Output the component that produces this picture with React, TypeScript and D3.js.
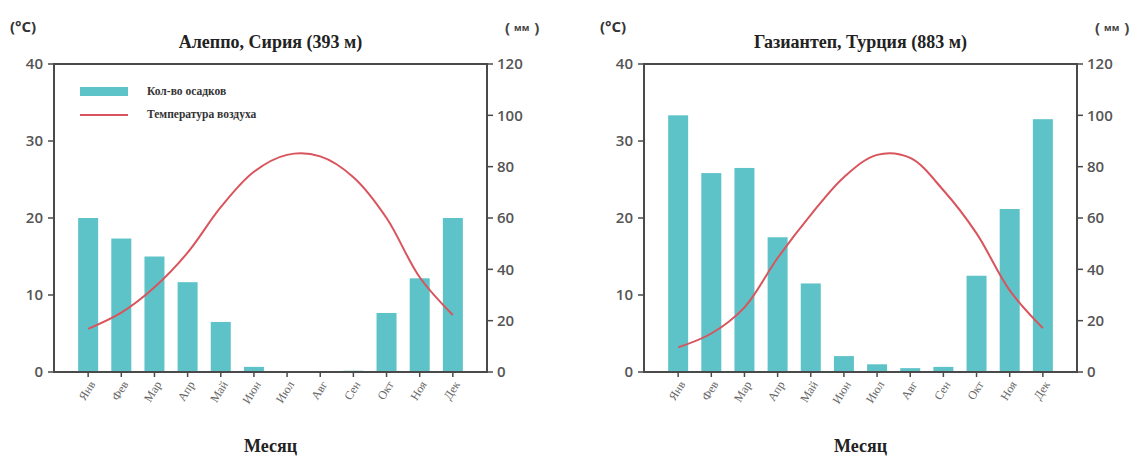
import React from "react";
import * as d3 from "d3";

const months = ["Янв", "Фев", "Мар", "Апр", "Май", "Июн", "Июл", "Авг", "Сен", "Окт", "Ноя", "Дек"];

// Алеппо
const aleppoRain = [60, 52, 45, 35, 19.5, 2, 0, 0, 0.5, 23, 36.5, 60];
const aleppoTemp = [5.6, 7.7, 11.0, 15.5, 21.4, 26.0, 28.2, 28.0, 25.3, 20.0, 12.3, 7.4];

// Газиантеп
const gaziRain = [100, 77.5, 79.5, 52.5, 34.5, 6.2, 3, 1.5, 2, 37.5, 63.5, 98.5];
const gaziTemp = [3.2, 5.0, 8.4, 14.8, 20.4, 25.3, 28.2, 27.8, 23.6, 18.0, 10.6, 5.7];

const tempTicks = [0, 10, 20, 30, 40];
const rainTicks = [0, 20, 40, 60, 80, 100, 120];

const BAR = "#5ec3c8";
const LINE = "#d9545c";
const AXIS = "#4a4a4a";

const top = 64;
const bottom = 372;

type ChartProps = {
  x0: number;
  title: string;
  rain: number[];
  temp: number[];
  legend?: boolean;
};

const Chart = ({ x0, title, rain, temp, legend }: ChartProps) => {
  const x1 = x0 + 433;
  const x = d3.scaleLinear().domain([-1.03, 12.03]).range([x0, x1]);
  const yT = d3.scaleLinear().domain([0, 40]).range([bottom, top]);
  const yR = d3.scaleLinear().domain([0, 120]).range([bottom, top]);
  const bw = 20;

  const line = d3
    .line<number>()
    .x((d, i) => x(i))
    .y((d) => yT(d))
    .curve(d3.curveCatmullRom.alpha(0.5));

  const cx = (x0 + x1) / 2;
  const tickFont = "'Open Sans', 'Liberation Sans', sans-serif";
  const serif = "'Liberation Serif', 'DejaVu Serif', serif";

  return (
    <g>
      <text x={x0 - 44} y={32} fontFamily={tickFont} fontWeight={700} fontSize={15} fill="#333">
        (°C)
      </text>
      <text x={x1 + 18} y={33} fontFamily={tickFont} fontWeight={700} fontSize={15} fill="#444">
        (
        <tspan fontSize={9} dx={4} dy={-2}>мм</tspan>
        <tspan dx={5} dy={2}>)</tspan>
      </text>
      <text x={cx} y={48} textAnchor="middle" fontFamily={serif} fontWeight={700} fontSize={18} fill="#222">
        {title}
      </text>

      {rain.map((d, i) => (
        <rect key={i} x={x(i) - bw / 2} y={yR(d)} width={bw} height={bottom - yR(d)} fill={BAR} />
      ))}
      <path d={line(temp) || ""} fill="none" stroke={LINE} strokeWidth={2} />

      {/* spines */}
      <rect x={x0} y={top} width={x1 - x0} height={bottom - top} fill="none" stroke={AXIS} strokeWidth={2} />

      {tempTicks.map((t) => (
        <g key={t}>
          <line x1={x0 - 6} x2={x0} y1={yT(t)} y2={yT(t)} stroke={AXIS} strokeWidth={1.5} />
          <text
            x={x0 - 11}
            y={yT(t)}
            dy="0.35em"
            textAnchor="end"
            fontFamily={tickFont}
            fontWeight={600}
            fontSize={15}
            fill="#555"
          >
            {t}
          </text>
        </g>
      ))}
      {rainTicks.map((t) => (
        <g key={t}>
          <line x1={x1} x2={x1 + 6} y1={yR(t)} y2={yR(t)} stroke={AXIS} strokeWidth={1.5} />
          <text
            x={x1 + 10}
            y={yR(t)}
            dy="0.35em"
            fontFamily={tickFont}
            fontWeight={600}
            fontSize={15}
            fill="#555"
          >
            {t}
          </text>
        </g>
      ))}
      {months.map((m, i) => (
        <g key={m}>
          <line x1={x(i)} x2={x(i)} y1={bottom} y2={bottom + 5} stroke={AXIS} strokeWidth={1.5} />
          <text
            transform={`translate(${x(i) + 4},${bottom + 10}) rotate(-58)`}
            textAnchor="end"
            dy="0.35em"
            fontFamily={serif}
            fontSize={12}
            fill="#666"
          >
            {m}
          </text>
        </g>
      ))}

      <text x={cx} y={452} textAnchor="middle" fontFamily={serif} fontWeight={700} fontSize={18} fill="#222">
        Месяц
      </text>

      {legend && (
        <g>
          <rect x={x0 + 26} y={87} width={48} height={9} fill={BAR} />
          <text x={x0 + 93} y={91} dy="0.35em" fontFamily={serif} fontWeight={700} fontSize={11.5} fill="#333">
            Кол-во осадков
          </text>
          <line x1={x0 + 26} x2={x0 + 74} y1={115} y2={115} stroke={LINE} strokeWidth={2} />
          <text x={x0 + 93} y={114} dy="0.35em" fontFamily={serif} fontWeight={700} fontSize={11.5} fill="#333">
            Температура воздуха
          </text>
        </g>
      )}
    </g>
  );
};

const App = () => {
  return (
    <svg
      width={1139}
      height={459}
      style={{ position: "absolute", left: 0, top: 0, background: "#fff" }}
    >
      <rect width={1139} height={459} fill="#fff" />
      <Chart x0={54} title="Алеппо, Сирия (393 м)" rain={aleppoRain} temp={aleppoTemp} legend />
      <Chart x0={644} title="Газиантеп, Турция (883 м)" rain={gaziRain} temp={gaziTemp} />
    </svg>
  );
};

export default App;
